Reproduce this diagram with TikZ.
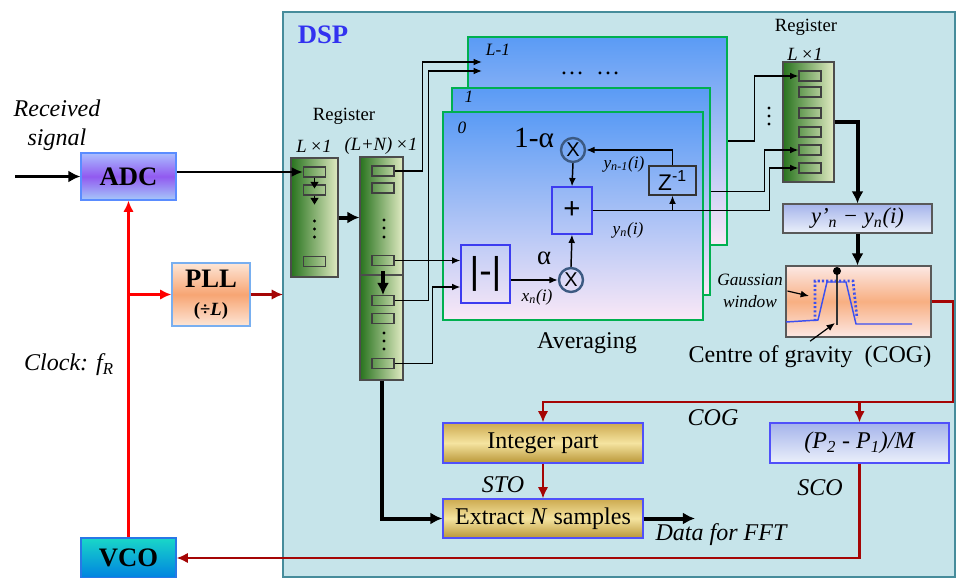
\documentclass[tikz,border=0pt]{standalone}
\usepackage{fontspec}
\setmainfont{Liberation Serif}
\setsansfont{Liberation Sans}
\usepackage{tikz}
\usetikzlibrary{arrows.meta, calc}

\definecolor{dspbg}{RGB}{198,228,234}
\definecolor{dspedge}{RGB}{70,140,155}
\definecolor{dspblue}{RGB}{50,50,240}
\definecolor{clkred}{RGB}{255,0,0}
\definecolor{cogred}{RGB}{165,5,5}
\definecolor{adcedge}{RGB}{90,140,255}
\definecolor{adctop}{RGB}{170,190,255}
\definecolor{adcmid}{RGB}{145,90,240}
\definecolor{adcbot}{RGB}{165,200,250}
\definecolor{plledge}{RGB}{120,175,240}
\definecolor{plltop}{RGB}{253,230,215}
\definecolor{pllmid}{RGB}{247,165,115}
\definecolor{vcoedge}{RGB}{40,120,230}
\definecolor{vcotop}{RGB}{25,215,200}
\definecolor{vcobot}{RGB}{0,130,225}
\definecolor{regdark}{RGB}{40,115,30}
\definecolor{reglight}{RGB}{225,235,195}
\definecolor{avgtop}{RGB}{90,155,245}
\definecolor{avgbot}{RGB}{250,232,246}
\definecolor{avgedge}{RGB}{0,176,80}
\definecolor{multedge}{RGB}{60,90,130}
\definecolor{plusblue}{RGB}{60,60,240}
\definecolor{difftop}{RGB}{165,180,235}
\definecolor{diffbot}{RGB}{235,240,250}
\definecolor{cogtop}{RGB}{252,232,228}
\definecolor{cogmid}{RGB}{248,175,130}
\definecolor{gold1}{RGB}{205,170,80}
\definecolor{gold2}{RGB}{245,228,160}
\definecolor{gold3}{RGB}{185,150,55}
\definecolor{boxblue}{RGB}{80,80,250}
\definecolor{gaussblue}{RGB}{60,80,240}

\begin{document}
\begin{tikzpicture}[
      x=0.75pt, y=-0.75pt,
      arr/.style={-{Latex[length=2.2mm, width=1.8mm]}, line width=1.1pt},
      bigarr/.style={-{Latex[length=3.2mm, width=3.2mm]}, line width=3pt},
      clkarr/.style={-{Latex[length=3mm, width=2.8mm]}, line width=2.2pt, draw=clkred},
      cogarr/.style={-{Latex[length=3mm, width=2.8mm]}, line width=2.2pt, draw=cogred},
      box/.style={draw, inner sep=0pt, line width=0.9pt},
      reg/.style={box, draw=gray!60!black, left color=regdark, right color=reglight},
      cell/.style={draw=black!75, line width=0.8pt, inner sep=0pt, minimum width=22*0.75pt, minimum height=10*0.75pt},
      avg/.style={box, draw=avgedge, line width=2.2pt, top color=avgtop, bottom color=avgbot},
      mult/.style={circle, draw=multedge, line width=1.8pt, inner sep=0pt, minimum size=24*0.75pt, font=\sffamily\fontsize{15}{15}\selectfont},
      goldbox/.style={box, draw=boxblue, top color=gold1, bottom color=gold3, middle color=gold2, minimum width=200*0.75pt, font=\fontsize{18}{20}\selectfont},
      bigtxt/.style={font=\bfseries\fontsize{20}{22}\selectfont},
      lbl/.style={font=\fontsize{18}{22}\selectfont},
      ilbl/.style={font=\fontsize{18}{22}\selectfont\itshape},
      sublbl/.style={font=\fontsize{13}{16}\selectfont\itshape},
      reglbl/.style={font=\fontsize{14}{16}\selectfont},
      dimlbl/.style={font=\fontsize{14}{16}\selectfont\itshape}
    ]
    \path[use as bounding box, fill=white] (0,0) rectangle (958,578);
    \draw[dspedge, fill=dspbg, line width=1.2pt] (283,12) rectangle (955,577);
    \node[bigtxt, text=dspblue] (dsp) at (323,35) {DSP};

    \node[box, draw=adcedge, top color=adctop, bottom color=adcbot, middle color=adcmid, minimum width=95*0.75pt, minimum height=47*0.75pt, bigtxt] (adc) at (128.5,176.5) {ADC};
    \node[box, draw=plledge, top color=plltop, bottom color=plltop, middle color=pllmid, minimum width=78*0.75pt, minimum height=63*0.75pt, align=center, font=\bfseries\fontsize{20}{20}\selectfont] (pll) at (211,294.5)
      {PLL\\[1pt]{\fontsize{14}{14}\selectfont(÷\textit{L})}};
    \node[box, draw=vcoedge, top color=vcotop, bottom color=vcobot, minimum width=95*0.75pt, minimum height=40*0.75pt, bigtxt] (vco) at (128.5,558) {VCO};

    \node[ilbl, align=center] (rxlbl) at (57,125) {Received\\signal};
    \node[ilbl] (clk) at (69,365) {Clock: f\textsubscript{R}};
    \coordinate (rxin) at (15,176.5);
    \coordinate (dspin) at (283,294.5);
    \draw[bigarr, line width=2.4pt] (rxin) -- (adc.west);
    \draw[clkarr] (vco.north) -- (adc.south);
    \draw[clkarr] (vco.north |- pll.west) -- (pll.west);
    \draw[cogarr] (pll.east) -- (dspin);

    \node[reglbl] (reglbl1) at (344,116) {Register};
    \node[dimlbl] (dim1) at (314,146) {L\,×1};
    \node[dimlbl] (dim2) at (381,146) {(L+N)\,×1};
    \node[reg, minimum width=47*0.75pt, minimum height=119*0.75pt] (reg1) at (314.5,217.5) {};
    \foreach \n/\y in {1/172, 2/190, 3/261.5}
      \node[cell] (c1\n) at (314.5,\y) {};
    \draw[-{Triangle[length=5pt, width=6pt]}, line width=0.8pt] (c11.south) -- ([yshift=-3pt]c12.north);
    \draw[-{Triangle[length=5pt, width=6pt]}, line width=0.8pt] (c12.south) -- ++(0,9);
    \foreach \y in {221,229,237}
      \fill (314.5,\y) circle (1.3pt);

    \node[reg, minimum width=43*0.75pt, minimum height=223*0.75pt] (reg2) at (381.5,268.5) {};
    \foreach \n/\y in {1/171, 2/188, 3/260.5, 4/300.5, 5/318.5, 6/363.5}
      \node[cell] (c2\n) at (383,\y) {};
    \draw[line width=0.9pt, black!70] (reg2.west |- 0,275) -- (reg2.east |- 0,275);
    \draw[bigarr] ([yshift=-4pt]c23.south) -- (c24.north);
    \foreach \y in {220,228,237,333,341,349}
      \fill (384,\y) circle (1.3pt);

    \draw[-{Latex[length=3mm, width=2.6mm]}, line width=1.6pt] (adc.east |- c11.west) -- (c11.west);
    \draw[bigarr] (reg1.east) -- (reg1.east -| reg2.west);

    \node[avg, minimum width=259*0.75pt, minimum height=208*0.75pt] (avgL) at (597.5,141) {};
    \node[avg, minimum width=258*0.75pt, minimum height=207*0.75pt] (avg1) at (581,191.5) {};
    \node[avg, minimum width=260*0.75pt, minimum height=208*0.75pt] (avg0) at (573,216) {};
    \node[sublbl] (idxL) at (498,50) {L-1};
    \node[sublbl] (idx1) at (469,97) {1};
    \node[sublbl] (idx0) at (462,128) {0};
    \node[lbl] (more) at (590,73) {…\enspace…};

    \node[mult] (m1) at (573,150) {X};
    \node[mult] (m2) at (571,280) {X};
    \node[box, draw=gray!40!black, minimum width=47*0.75pt, minimum height=29*0.75pt, font=\sffamily\fontsize{17}{17}\selectfont] (z1) at (672.5,180.5) {Z\textsuperscript{-1}};
    \node[box, draw=plusblue, minimum width=40*0.75pt, minimum height=47*0.75pt, font=\sffamily\fontsize{22}{22}\selectfont] (add) at (572,210.5) {+};
    \node[box, draw=plusblue, minimum width=49*0.75pt, minimum height=58*0.75pt, font=\sffamily\fontsize{28}{28}\selectfont] (abs) at (485.5,274) {|-|};
    \node[font=\fontsize{22}{22}\selectfont] (onema) at (534,138) {1-α};
    \node[font=\fontsize{20}{20}\selectfont] (alpha) at (544,258) {α};
    \node[sublbl] (ynm1) at (624,164) {y\textsubscript{n-1}(i)};
    \node[sublbl] (yn) at (628,230) {y\textsubscript{n}(i)};
    \node[sublbl] (xn) at (537,297) {x\textsubscript{n}(i)};
    \node[lbl] (avglbl) at (587,343) {Averaging};

    \coordinate (inL1) at (482,62);
    \coordinate (inL2) at (482,71);
    \draw[arr] (c21.east) -- ++(28,0) |- (inL1);
    \draw[arr] (c24.east) -- ++(34,0) |- (inL2);
    \draw[arr] (c23.east) -- (c23.east -| abs.west);
    \draw[arr] (c26.east) -- ++(38,0) |- ($(abs.west)+(0,13)$);
    \draw[arr] (abs.east |- m2.west) -- (m2.west);
    \draw[arr] (m2.north) -- (add.south);
    \draw[arr] (m1.south) -- (add.north);
    \draw[arr] (z1.north) |- (m1.east);

    \node[reglbl] (reglbl3) at (806,27) {Register};
    \node[dimlbl] (dim3) at (805,54) {L\,×1};
    \node[reg, minimum width=51*0.75pt, minimum height=120*0.75pt] (reg3) at (808.5,122) {};
    \foreach \n/\y in {1/76, 2/92, 3/113, 4/132, 5/150, 6/168}
      \node[cell] (r\n) at (810,\y) {};
    \foreach \y in {108,116,124}
      \fill (769,\y) circle (1.3pt);
    \draw[arr] (avgL.east) -- ++(26,0) |- (r1.west);
    \draw[arr] (avg1.east) -- ++(53,0) |- (r5.west);
    \draw[arr] (add.east) -- ++(177,0) |- (r6.west);
    \draw[arr] (z1.south |- add.east) -- (z1.south);

    \node[box, draw=gray!70!black, top color=difftop, bottom color=diffbot, minimum width=149*0.75pt, minimum height=29*0.75pt, font=\fontsize{17}{17}\selectfont\itshape] (ydiff) at (857.5,218.5) {y’\textsubscript{n} − y\textsubscript{n}(i)};
    \node[box, draw=gray!70!black, top color=cogtop, bottom color=cogtop, middle color=cogmid, minimum width=145*0.75pt, minimum height=71*0.75pt] (cog) at (858.5,301.5) {};
    \draw[bigarr] (reg3.east) -| (ydiff.north);
    \draw[bigarr] (ydiff.south) -- (ydiff.south |- cog.north);

    \draw[gaussblue, line width=1.1pt] (786,322) -- (818,320) -- (827,282) -- (846,282) -- (856,324) -- (912,324);
    \draw[gaussblue, line width=2pt, dash pattern=on 1.6pt off 1.6pt] (815,321) -- (815,281) -- (853,281) -- (857,318);
    \draw[line width=1.1pt, black!80] (837,273) -- (837,325);
    \fill (837,271) circle (3pt);

    \node[sublbl, align=center] (gwin) at (750,291) {Gaussian\\window};
    \node[lbl] (cogl) at (810,357) {Centre of gravity\ \ (COG)};
    \coordinate (gedge) at (809,296);
    \coordinate (cogpt) at (835,323);
    \draw[arr, line width=0.9pt] (gwin.east) -- (gedge);
    \draw[arr, line width=0.9pt] (cogl.north) -- (cogpt);

    \node[goldbox, minimum height=40*0.75pt] (intp) at (543,443) {Integer part};
    \node[goldbox, minimum height=39*0.75pt] (extr) at (543,518.5) {Extract \textit{N} samples};
    \node[box, draw=boxblue, top color=difftop, bottom color=diffbot, minimum width=179*0.75pt, minimum height=40*0.75pt, font=\fontsize{18}{20}\selectfont\itshape] (scl) at (859.5,443) {(P\textsubscript{2} - P\textsubscript{1})/M};
    \node[ilbl] (cogtxt) at (713,418) {COG};
    \node[ilbl] (sto) at (503,485) {STO};
    \node[ilbl] (sco) at (820,488) {SCO};
    \node[ilbl] (fft) at (721,535) {Data for FFT};

    \coordinate (cogbus) at (953,402);
    \coordinate (fftout) at (695,518.5);
    \draw[cogarr] (cog.east) -| (cogbus) -| (intp.north);
    \draw[cogarr] (cogbus -| scl.north) -- (scl.north);
    \draw[cogarr] (intp.south) -- (extr.north);
    \draw[cogarr] (scl.south) |- (vco.east);
    \draw[bigarr] (extr.east) -- (fftout);
    \draw[bigarr] (reg2.south) |- (extr.west);
  \end{tikzpicture}
\end{document}
